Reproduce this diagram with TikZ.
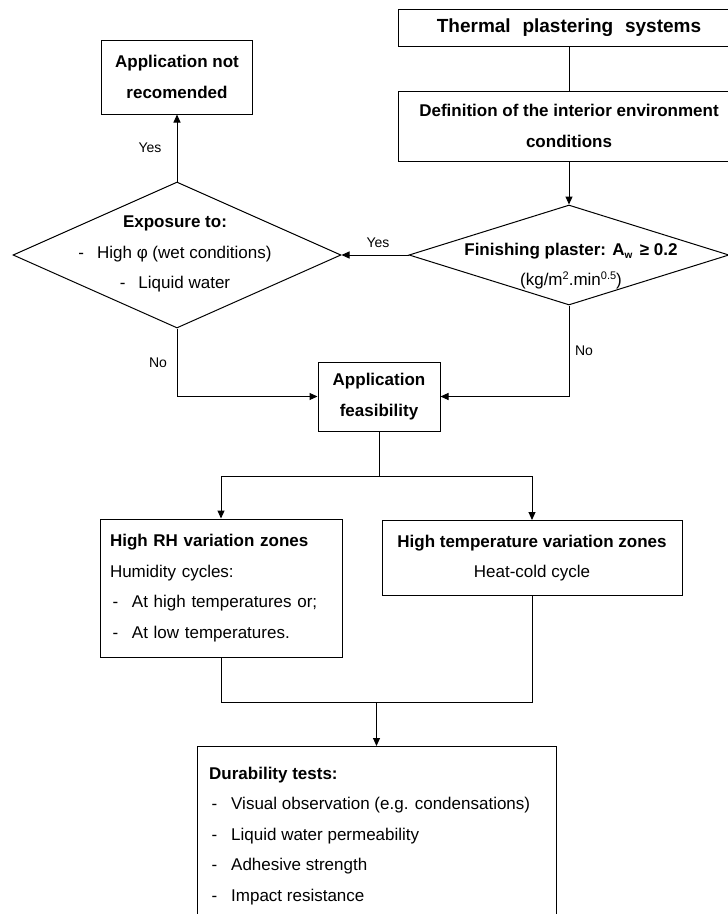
\documentclass[tikz,border=0pt]{standalone}
\usepackage{fontspec}
\setmainfont{Liberation Sans}
\usetikzlibrary{shapes.geometric,arrows.meta}

% leading dash of a list line
\newcommand\dashlead{\makebox[22pt][l]{\hspace{2.5pt}-}}
\newcommand\supsmall[1]{\raisebox{6pt}{\fontsize{11}{11}\selectfont #1}}
\newcommand\subsmall[1]{\raisebox{-3pt}{\fontsize{10}{10}\selectfont #1}}

\tikzset{
  body/.style={font=\fontsize{17}{30.5}\selectfont},
  box/.style={draw, line width=1pt, inner sep=0pt, align=center, body},
  dia/.style={draw, line width=1pt, diamond, inner sep=0pt},
  txt/.style={inner sep=0pt, align=center, body},
  lbl/.style={inner sep=0pt, font=\fontsize{14}{14}\selectfont},
  arr/.style={-{Triangle[length=8pt,width=7pt]}},
  wire/.style={line width=1pt}
}

\begin{document}
\begin{tikzpicture}[x=1pt,y=-1pt]
\useasboundingbox (0,0) rectangle (728,914);
\clip (0,0) rectangle (728,914);
\fill[white] (0,0) rectangle (728,914);

% boxes
\node[box, minimum width=342pt, minimum height=37pt,
      font=\fontsize{19}{22}\selectfont\bfseries] (thermal) at (569,27.5)
  {Thermal\hspace{6.5pt} plastering\hspace{6.5pt} systems};
\node[box, minimum width=342pt, minimum height=70pt, font=\fontsize{17}{30.5}\selectfont\bfseries] (def) at (569,126)
  {Definition of the interior environment\\conditions};
\node[box, minimum width=151pt, minimum height=74pt, font=\fontsize{17}{30.5}\selectfont\bfseries] (notrec) at (177,77)
  {Application not\\recomended};
\node[box, minimum width=122pt, minimum height=69pt, font=\fontsize{17}{30.5}\selectfont\bfseries] (app) at (379,396.5)
  {Application\\feasibility};
\node[box, align=left, inner xsep=10pt, text width=222pt, minimum height=138pt] (rh) at (221,588)
  {\textbf{High RH variation zones}\\Humidity cycles:\\\dashlead At high temperatures or;\\\dashlead At low temperatures.};
\node[box, minimum width=300pt, minimum height=75pt] (ht) at (532,558)
  {\textbf{High temperature variation zones}\\Heat-cold cycle};
\node[box, anchor=north, minimum width=359pt, minimum height=220pt] (dur) at (376.5,746) {};
\node[txt, align=left, anchor=west] (durtxt) at (209,835.6)
  {\textbf{Durability tests:}\\
   \dashlead Visual observation (e.g. condensations)\\
   \dashlead Liquid water permeability\\
   \dashlead Adhesive strength\\
   \dashlead Impact resistance};

% decisions
\node[dia, minimum width=320pt, minimum height=100pt] (fin) at (569,255) {};
\node[txt] (fintxt) at (571,266)
  {\textbf{Finishing plaster: A\subsmall{w} \,≥ 0.2}\\(kg/m\supsmall{2}.min\supsmall{0.5})};
\node[dia, minimum width=328pt, minimum height=146pt] (expo) at (177,255) {};
\node[txt] (expotxt) at (175,254)
  {\textbf{Exposure to:}\\-\hspace{13pt}High φ (wet conditions)\\-\hspace{13pt}Liquid water};

% connectors
\draw[wire] (thermal.south -| fin.north) -- (def.north -| fin.north);
\draw[wire, arr] (def.south -| fin.north) -- (fin.north);
\draw[wire, arr] (fin.west) -- (expo.east);
\draw[wire, arr] (expo.north) -- (notrec.south);
\draw[wire, arr] (expo.south) |- (app.west);
\draw[wire, arr] (fin.south) |- (app.east);

\coordinate (split) at (379,476);
\draw[wire] (app.south) -- (split);
\draw[wire, arr] (split) -| (rh.north);
\draw[wire, arr] (split) -| (ht.north);

\coordinate (merge) at (376.5,702);
\draw[wire] (rh.south) |- (merge) -| (ht.south);
\draw[wire, arr] (merge) -- (dur.north);

% branch labels
\node[lbl] (yes1) at (378,243) {Yes};
\node[lbl] (yes2) at (150,148) {Yes};
\node[lbl] (no1) at (158,363) {No};
\node[lbl] (no2) at (584,351) {No};
\end{tikzpicture}
\end{document}
